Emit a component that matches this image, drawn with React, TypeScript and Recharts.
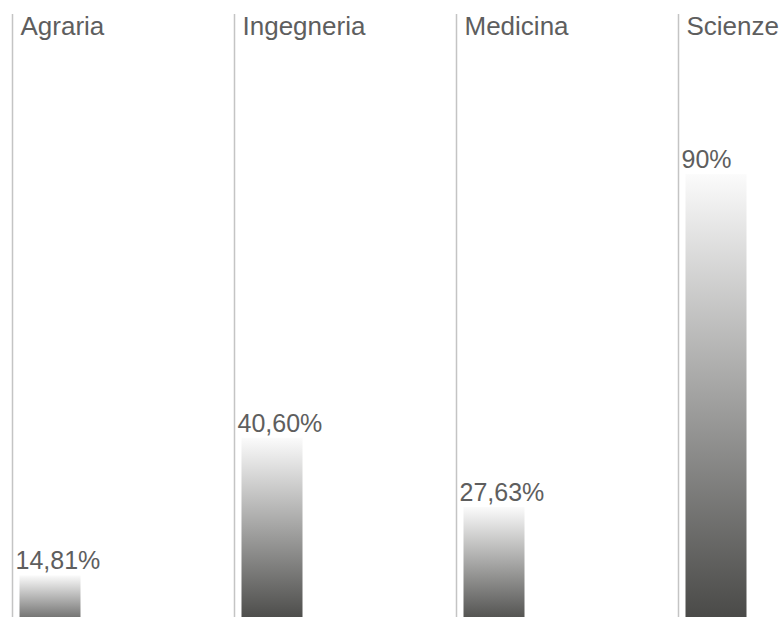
import { BarChart, Bar, XAxis, YAxis } from 'recharts';

const FACULTIES = ['Agraria', 'Ingegneria', 'Medicina', 'Scienze'];
const SHARES = [14.81, 40.6, 27.63, 90];
const BOTTOM_SHADES = ['#767675', '#4e4e4c', '#555553', '#4a4a48'];

const data = FACULTIES.map((name, i) => ({ name, value: SHARES[i] }));

const CHART_W = 900;
const CHART_H = 617;
const MARGIN = { top: 14, right: 0, left: 12, bottom: 0 };
const BAND = (CHART_W - MARGIN.left - MARGIN.right) / FACULTIES.length;
const BAR_OFFSET = 7;
const BAR_W = 61;
const FONT = '"Liberation Sans", Arial, sans-serif';
const TEXT_COLOR = '#5e5e5e';

const formatShare = (v: number) =>
  (Number.isInteger(v) ? String(v) : v.toFixed(2).replace('.', ',')) + '%';

// column background: grey rule on the left + faculty name at the top
function FacultyColumn(props: any) {
  const { x, width, y, height, payload } = props;
  const start = x + width / 2 - BAND / 2;
  return (
    <g>
      <line x1={start} x2={start} y1={y} y2={y + height} stroke="#c4c4c4" strokeWidth={1.5} />
      <text x={start + 8} y={y + 21} fontSize={26} fontFamily={FONT} fill={TEXT_COLOR}>
        {payload.name}
      </text>
    </g>
  );
}

function ShareBar(props: any) {
  const { x, width, y, height, index, payload } = props;
  const start = x + width / 2 - BAND / 2;
  return (
    <g>
      <rect x={start + BAR_OFFSET} y={y} width={BAR_W} height={height} fill={`url(#share-grad-${index})`} />
      <text x={start + BAR_OFFSET - 4} y={y - 6} fontSize={25} fontFamily={FONT} fill={TEXT_COLOR}>
        {formatShare(payload.value)}
      </text>
    </g>
  );
}

export default function App() {
  return (
    <div style={{ position: 'fixed', top: 0, left: 0, width: 784, height: 617, overflow: 'hidden', background: '#fff' }}>
      <BarChart width={CHART_W} height={CHART_H} data={data} margin={MARGIN}>
        <defs>
          {BOTTOM_SHADES.map((c, i) => (
            <linearGradient key={i} id={`share-grad-${i}`} x1="0" y1="0" x2="0" y2="1">
              <stop offset="0%" stopColor="#fbfbfb" />
              <stop offset="100%" stopColor={c} />
            </linearGradient>
          ))}
        </defs>
        <XAxis dataKey="name" hide />
        <YAxis hide domain={[7, 120]} allowDataOverflow />
        <Bar
          dataKey="value"
          isAnimationActive={false}
          barSize={BAR_W}
          background={<FacultyColumn />}
          shape={<ShareBar />}
        />
      </BarChart>
    </div>
  );
}
